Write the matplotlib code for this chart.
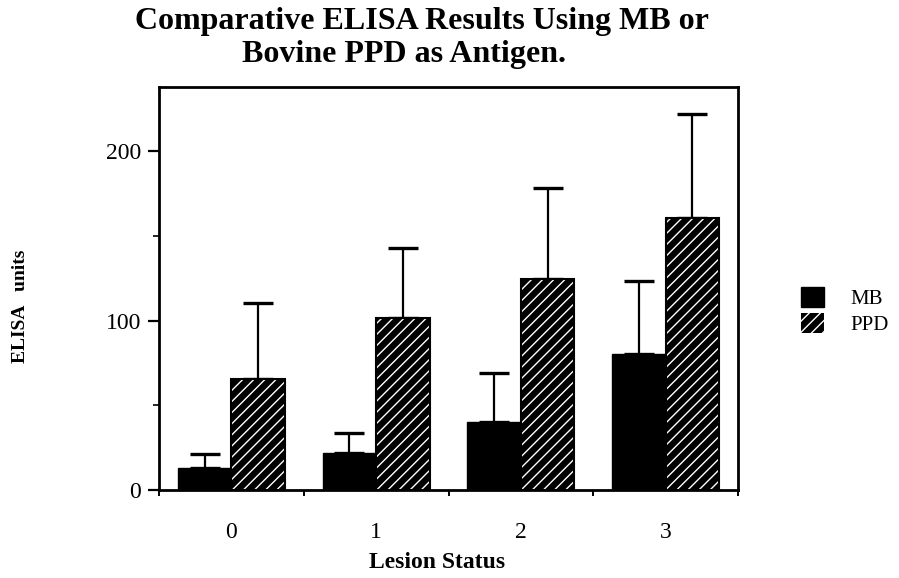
import numpy as np
import matplotlib.pyplot as plt
from matplotlib.patches import Patch

plt.rcParams['font.family'] = 'Liberation Serif'
plt.rcParams['hatch.linewidth'] = 1.0

lesion = [0, 1, 2, 3]
mb_mean = [13.2, 22.1, 40.4, 80.6]
mb_err = [8.3, 11.8, 29.0, 43.0]
ppd_mean = [65.4, 101.5, 124.9, 160.4]
ppd_err = [45.2, 41.7, 53.6, 61.7]

x = np.arange(len(lesion))
w = 0.37

fig = plt.figure(figsize=(8.99, 5.78), dpi=100)
ax = fig.add_axes([0.1769, 0.1522, 0.644, 0.6973])

# error bars (upper only)
ax.errorbar(x - w / 2, mb_mean, yerr=[np.zeros(4), mb_err], fmt='none',
            ecolor='black', elinewidth=1.6, capsize=11, capthick=2.4, zorder=1)
ax.errorbar(x + w / 2, ppd_mean, yerr=[np.zeros(4), ppd_err], fmt='none',
            ecolor='black', elinewidth=1.6, capsize=11, capthick=2.4, zorder=1)

ax.bar(x - w / 2, mb_mean, w, color='black', edgecolor='black', linewidth=1, zorder=2)
ax.bar(x + w / 2, ppd_mean, w, color='black', edgecolor='white', hatch='///',
       linewidth=0, zorder=2)
ax.bar(x + w / 2, ppd_mean, w, fill=False, edgecolor='black', linewidth=1.5, zorder=3)

ax.set_xlim(-0.5, 3.5)
ax.set_ylim(0, 238)

ax.set_yticks([0, 100, 200])
ax.set_yticks([50, 150], minor=True)
ax.set_xticks(x)
ax.set_xticklabels([str(v) for v in lesion])
ax.set_xticks([-0.5, 0.5, 1.5, 2.5, 3.5], minor=True)

ax.tick_params(axis='y', which='major', length=8, width=1.6, direction='out',
               labelsize=17, pad=5)
ax.tick_params(axis='y', which='minor', length=4, width=1.2, direction='out')
ax.tick_params(axis='x', which='major', length=0, labelsize=17, pad=23)
ax.tick_params(axis='x', which='minor', length=4, width=1.4, direction='out')

for s in ax.spines.values():
    s.set_linewidth(2.0)

# title lines
fig.text(135 / 899, 1 - 29 / 578, 'Comparative ELISA Results Using MB or',
         fontsize=23, fontweight='bold', ha='left', va='baseline')
fig.text(242 / 899, 1 - 62 / 578, 'Bovine PPD as Antigen.',
         fontsize=23, fontweight='bold', ha='left', va='baseline')

fig.text(21 / 899, 1 - 306 / 578, 'ELISA   units', rotation=90, fontsize=14,
         fontweight='bold', ha='center', va='center')
fig.text(437 / 899, 1 - 562 / 578, 'Lesion Status', fontsize=17, fontweight='bold',
         ha='center', va='center')

handles = [Patch(facecolor='black', edgecolor='black'),
           Patch(facecolor='black', edgecolor='white', hatch='///', linewidth=0)]
fig.legend(handles, ['MB', 'PPD'], loc='center left',
           bbox_to_anchor=(782 / 899, 1 - 311 / 578), frameon=False,
           fontsize=15, handlelength=1.1, handleheight=1.1,
           handletextpad=1.3, labelspacing=0.15)

fig.savefig('out.png', dpi=100)
